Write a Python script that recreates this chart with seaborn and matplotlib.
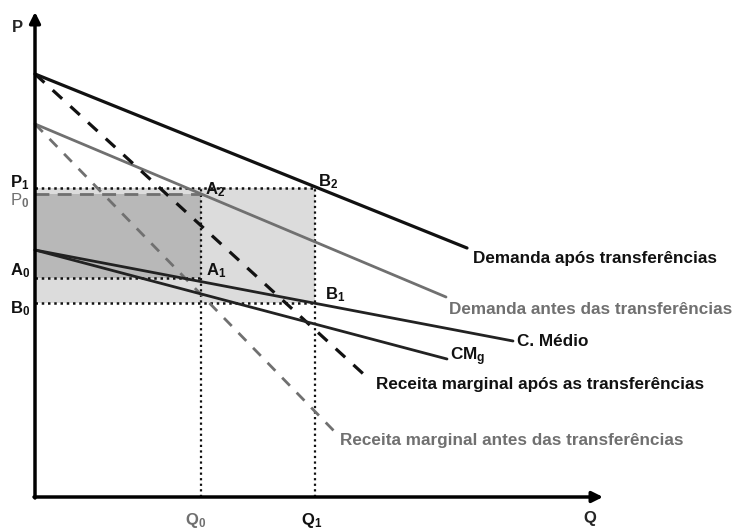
import numpy as np
import pandas as pd
import seaborn as sns
import matplotlib.pyplot as plt

# ---------------------------------------------------------------#
# Data (schematic units: Q to the right, P upwards)              #
# ---------------------------------------------------------------#

q0, q1 = 166, 280
p1, p0 = 309, 303
a0, b0 = 219, 194

curves = {
    # name: (q points, p points, colour, dashed)
    "dem_apos":   ([0, 432], [423, 249], "#111111", False),
    "dem_antes":  ([0, 411], [373, 200], "#707070", False),
    "rmg_apos":   ([0, 335], [423, 117], "#111111", True),
    "rmg_antes":  ([0, 300], [373, 65],  "#707070", True),
    "c_medio":    ([0, 478], [247, 156], "#222222", False),
    "cmg":        ([0, 412], [247, 138], "#222222", False),
}

curve_labels = ["Demanda após transferências",
                "Demanda antes das transferências",
                "C. Médio",
                "CM$_\\mathbf{g}$",
                "Receita marginal após as transferências",
                "Receita marginal antes das transferências"]
label_q = [438, 414, 482, 415, 341, 305]
label_p = [238, 188, 155, 140, 112, 56]
label_col = ["#111111", "#707070", "#111111", "#111111", "#111111", "#707070"]

axis_top = 485
axis_right = 568

# ---------------------------------------------------------------#
# Figure                                                         #
# ---------------------------------------------------------------#

sns.set_theme(style="white")
plt.rcParams["font.family"] = ["Liberation Sans", "DejaVu Sans"]
plt.rcParams["mathtext.fontset"] = "custom"
plt.rcParams["mathtext.rm"] = "Liberation Sans:bold"
plt.rcParams["mathtext.bf"] = "Liberation Sans:bold"
plt.rcParams["mathtext.it"] = "Liberation Sans:bold"
plt.rcParams["mathtext.default"] = "bf"

fig = plt.figure(figsize=(7.36, 5.28), dpi=100)
ax = fig.add_axes([0, 0, 1, 1])
ax.set_xlim(-35, 701)
ax.set_ylim(-31, 497)
ax.axis("off")

# shaded areas
ax.fill_between([0, q1], b0, p1, color="#dcdcdc", lw=0, zorder=1)
ax.fill_between([0, q0], a0, p0, color="#b8b8b8", lw=0, zorder=1)

# dotted guide lines
dot = (0, (1, 1.5))
ax.plot([0, q1], [p1, p1], color="#111111", lw=1.8, ls=dot, zorder=2)
ax.plot([0, q1], [b0, b0], color="#111111", lw=1.8, ls=dot, zorder=2)
ax.plot([0, q0], [a0, a0], color="#111111", lw=1.8, ls=dot, zorder=2)
ax.plot([q0, q0], [0, p1], color="#111111", lw=1.6, ls=dot, zorder=2)
ax.plot([q1, q1], [0, p1], color="#111111", lw=1.6, ls=dot, zorder=2)
ax.plot([0, q0], [p0, p0], color="#707070", lw=2, ls=(0, (5, 3)), zorder=2)

# curves
for name, (qs, ps, col, dashed) in curves.items():
    df = pd.DataFrame({"Q": qs, "P": ps})
    sns.lineplot(data=df, x="Q", y="P", ax=ax, color=col,
                 lw=2.3 if col == "#111111" else 2.0,
                 linestyle=(0, (4, 3.5)) if dashed else "-",
                 zorder=3)

for txt, x, y, c in zip(curve_labels, label_q, label_p, label_col):
    ax.text(x, y, txt, color=c, fontsize=12.3, fontweight="bold",
            ha="left", va="center")

# axes with arrows
ax.annotate("", xy=(0, axis_top), xytext=(0, -1),
            arrowprops=dict(arrowstyle="-|>", color="black", lw=2.5,
                            mutation_scale=16, shrinkA=0, shrinkB=0))
ax.annotate("", xy=(axis_right, 0), xytext=(-1, 0),
            arrowprops=dict(arrowstyle="-|>", color="black", lw=2.5,
                            mutation_scale=16, shrinkA=0, shrinkB=0))

# point and axis labels
pts = [("P$_1$", -25, 314, "#111111", "bold"),
       ("P$_0$", -25, 296, "#707070", "normal"),
       ("A$_0$", -25, 226, "#111111", "bold"),
       ("B$_0$", -25, 188, "#111111", "bold"),
       ("A$_2$", 170, 307, "#111111", "bold"),
       ("B$_2$", 283, 315, "#111111", "bold"),
       ("A$_1$", 171, 226, "#111111", "bold"),
       ("B$_1$", 290, 202, "#111111", "bold")]
for txt, x, y, c, w in pts:
    ax.text(x, y, txt, color=c, fontsize=12, fontweight=w,
            ha="left", va="center")

ax.text(-18, 470, "P", fontsize=12, fontweight="bold", ha="center", va="center")
ax.text(555, -21, "Q", fontsize=12, fontweight="bold", ha="center", va="center")
ax.text(q0 - 5, -23, "Q$_0$", fontsize=12, fontweight="bold", color="#707070",
        ha="center", va="center")
ax.text(q1 - 3, -23, "Q$_1$", fontsize=12, fontweight="bold", color="#111111",
        ha="center", va="center")

fig.savefig("out.png", dpi=100)
